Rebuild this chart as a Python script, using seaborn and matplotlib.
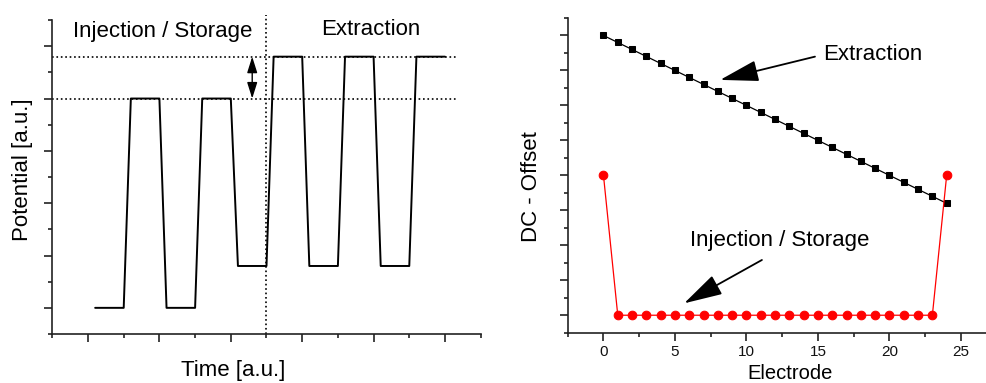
import numpy as np
import pandas as pd
import matplotlib
matplotlib.use("Agg")
import matplotlib.pyplot as plt
import seaborn as sns

# ---- data: left panel (waveform) ----
time_au = [1.2, 2, 2.2, 3, 3.2, 4, 4.2, 5, 5.2, 6, 6.2, 7, 7.2, 8, 8.2, 9, 9.2, 10, 10.2, 11]
potential_au = [1, 1, 9, 9, 1, 1, 9, 9, 2.6, 2.6, 10.6, 10.6, 2.6, 2.6, 10.6, 10.6, 2.6, 2.6, 10.6, 10.6]
storage_level = 9.0
extraction_level = 10.6
switch_time = 6.0

# ---- data: right panel (DC offsets per electrode) ----
electrode = list(range(25))
extraction_offset = [17.0, 16.6, 16.2, 15.8, 15.4, 15.0, 14.6, 14.2, 13.8, 13.4, 13.0, 12.6, 12.2,
                     11.8, 11.4, 11.0, 10.6, 10.2, 9.8, 9.4, 9.0, 8.6, 8.2, 7.8, 7.4]
injection_offset = [9] + [1] * 23 + [9]

sns.set_style("white")
plt.rcParams["font.family"] = ["Liberation Sans", "DejaVu Sans"]
plt.rcParams["text.color"] = "black"
plt.rcParams["axes.labelcolor"] = "black"

fig = plt.figure(figsize=(9.87, 3.83), dpi=100)
ax1 = fig.add_axes([0.0530, 0.1279, 0.4340, 0.8198])
ax2 = fig.add_axes([0.5752, 0.1313, 0.4274, 0.8217])

spine_col = "#222222"

# ---------------- Left panel ----------------
wave = pd.DataFrame({"t": time_au, "p": potential_au})
sns.lineplot(data=wave, x="t", y="p", ax=ax1, sort=False, estimator=None,
             color="black", lw=1.4)
ax1.plot([0, 11.3], [storage_level, storage_level], ls=":", color="black", lw=1.2)
ax1.plot([0, 11.3], [extraction_level, extraction_level], ls=":", color="black", lw=1.2)
ax1.plot([switch_time, switch_time], [0, 12.2], ls=":", color="black", lw=1.2, clip_on=False)
ax1.annotate("", xy=(5.6, extraction_level), xytext=(5.6, storage_level),
             arrowprops=dict(arrowstyle="<|-|>,head_length=0.7,head_width=0.22",
                             color="black", lw=1.0, mutation_scale=14, shrinkA=0, shrinkB=0))
ax1.text(3.1, 11.58, "Injection / Storage", fontsize=16, ha="center", va="center", color="black")
ax1.text(8.92, 11.65, "Extraction", fontsize=16, ha="center", va="center", color="black")

ax1.set_xlim(0, 12)
ax1.set_ylim(0, 12)
ax1.set_xticks([1, 3, 5, 7, 9, 11])
ax1.set_xticks([0, 2, 4, 6, 8, 10, 12], minor=True)
ax1.set_yticks([1, 3, 5, 7, 9, 11])
ax1.set_yticks([0, 2, 4, 6, 8, 10, 12], minor=True)
ax1.tick_params(which="both", direction="out", bottom=True, left=True,
                labelbottom=False, labelleft=False, color=spine_col, width=1.2)
ax1.tick_params(which="major", length=5.5)
ax1.tick_params(which="minor", length=3.2)
ax1.set_xlabel("Time [a.u.]", fontsize=16)
ax1.xaxis.set_label_coords((233 - 52.3) / 428.4, -(370 - 334) / 314)
ax1.xaxis.label.set_verticalalignment("center")
ax1.set_ylabel("Potential [a.u.]", fontsize=16)
ax1.yaxis.set_label_coords((22.7 - 52.3) / 428.4, (334 - 170) / 314)
ax1.yaxis.label.set_verticalalignment("center")

# ---------------- Right panel ----------------
dc = pd.DataFrame({"electrode": electrode, "extraction": extraction_offset,
                   "injection": injection_offset})
sns.lineplot(data=dc, x="electrode", y="extraction", ax=ax2, color="black", lw=0.9,
             marker="s", markersize=5, markeredgecolor="black", estimator=None)
sns.lineplot(data=dc, x="electrode", y="injection", ax=ax2, color="#ff0000", lw=0.9,
             marker="o", markersize=6.2, markeredgecolor="#ff0000", estimator=None)

arrow_kw = dict(arrowstyle="-|>,head_length=1.2,head_width=0.33", color="black",
                lw=1.3, mutation_scale=20, shrinkA=0, shrinkB=0)
ax2.annotate("", xy=(8.16, 14.46), xytext=(14.79, 15.79), arrowprops=arrow_kw)
ax2.annotate("", xy=(5.64, 1.68), xytext=(11.08, 4.16), arrowprops=arrow_kw)
ax2.text(18.86, 15.9, "Extraction", fontsize=16, ha="center", va="center", color="black")
ax2.text(12.32, 5.3, "Injection / Storage", fontsize=16, ha="center", va="center", color="black")

ax2.set_xlim(-2.5, 27.0)
ax2.set_ylim(0, 18)
ax2.set_xticks([0, 5, 10, 15, 20, 25])
ax2.set_xticks([-2.5, 2.5, 7.5, 12.5, 17.5, 22.5], minor=True)
ax2.set_yticks(list(range(1, 18, 2)))
ax2.set_yticks(list(range(0, 19, 2)), minor=True)
ax2.tick_params(which="both", direction="out", bottom=True, left=True,
                labelleft=False, color=spine_col, width=1.2)
ax2.tick_params(which="major", length=5.5, labelsize=11, pad=3, labelcolor="#111111")
ax2.tick_params(which="minor", length=3.2)
ax2.set_xlabel("Electrode", fontsize=14.5)
ax2.xaxis.set_label_coords((789.7 - 567.7) / 421.9, -(373 - 332.7) / 314.7)
ax2.xaxis.label.set_verticalalignment("center")
ax2.set_ylabel("DC - Offset", fontsize=16)
ax2.yaxis.set_label_coords((531.7 - 567.7) / 421.9, (332.7 - 186.7) / 314.7)
ax2.yaxis.label.set_verticalalignment("center")

for ax in (ax1, ax2):
    for s in ("top", "right"):
        ax.spines[s].set_visible(False)
    for s in ("left", "bottom"):
        ax.spines[s].set_color(spine_col)
        ax.spines[s].set_linewidth(1.2)

fig.savefig("out.png", dpi=100)
